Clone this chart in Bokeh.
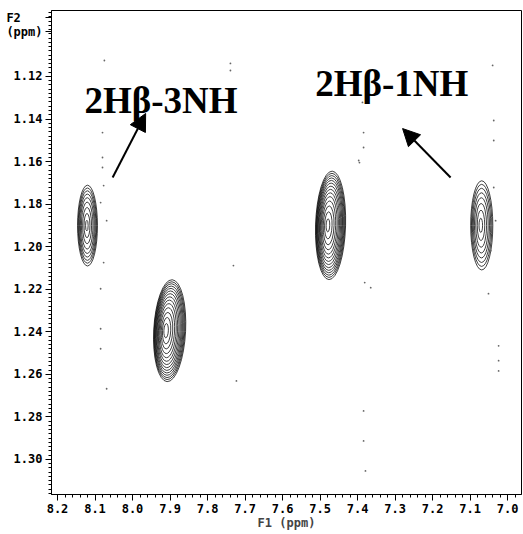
from bokeh.plotting import figure
from bokeh.models import (Range1d, Label, Arrow, NormalHead, ColumnDataSource, SingleIntervalTicker,
                          FixedTicker, PrintfTickFormatter)
from bokeh.embed import file_html
from bokeh.resources import INLINE

# ---- data ----
# cross peaks: F1 (ppm), F2 (ppm), outer contour extent in F1 / F2 (ppm)
peak_f1 = [8.120, 7.901, 7.472, 7.069]
peak_f2 = [1.1901, 1.2395, 1.1900, 1.1900]
peak_w = [0.053, 0.085, 0.080, 0.059]
peak_h = [0.038, 0.048, 0.051, 0.042]
peak_shift = [0.002, 0.011, 0.008, 0.003]      # drift of the inner contours (ppm, F1)
peak_tilt = [0.0, -0.05, -0.03, 0.0]
peak_levels = [
    [1.0, 0.93, 0.86, 0.78, 0.69, 0.58, 0.45, 0.30, 0.13],
    [1.0, 0.96, 0.92, 0.875, 0.83, 0.78, 0.725, 0.665, 0.60, 0.53, 0.45, 0.36, 0.26, 0.14],
    [1.0, 0.96, 0.92, 0.875, 0.83, 0.78, 0.725, 0.665, 0.60, 0.53, 0.45, 0.36, 0.25, 0.12],
    [1.0, 0.92, 0.83, 0.73, 0.62, 0.49, 0.34, 0.16],
]

# faint t1-noise specks
noise_f1 = [8.080, 8.080, 8.080, 8.077, 8.085, 8.069, 8.077, 8.085, 8.085, 8.085, 8.069, 8.075,
            7.739, 7.739, 7.731, 7.723, 7.387, 7.384, 7.384, 7.397, 7.395, 7.381, 7.365, 7.384,
            7.384, 7.379, 7.040, 7.037, 7.037, 7.037, 7.032, 7.045, 7.051, 7.024, 7.024, 7.024]
noise_f2 = [1.1464, 1.1581, 1.1628, 1.1713, 1.1793, 1.1878, 1.2075, 1.2198, 1.2386, 1.2480, 1.2668, 1.1125,
            1.1139, 1.1172, 1.2089, 1.2631, 1.1322, 1.1464, 1.1534, 1.1595, 1.1605, 1.2169, 1.2193, 1.2772,
            1.2913, 1.3054, 1.1148, 1.1407, 1.1501, 1.1722, 1.1878, 1.2019, 1.2221, 1.2466, 1.2536, 1.2584]

# axis ticks
f2_ticks = [1.12, 1.14, 1.16, 1.18, 1.20, 1.22, 1.24, 1.26, 1.28, 1.30]
f2_title_pos = [1.0925, 1.0990]
f2_title_text = ["F2\u00a0\u00a0\u00a0", "(ppm)"]

# annotations
label_texts = ["2H\u03b2-3NH", "2H\u03b2-1NH"]
label_f1 = [8.128, 7.513]
label_f2 = [1.1313, 1.1233]
arrow_start_f1 = [8.053, 7.152]
arrow_start_f2 = [1.1675, 1.1675]
arrow_end_f1 = [7.965, 7.280]
arrow_end_f2 = [1.1374, 1.1445]

# ---- figure ----
p = figure(width=523, height=534, output_backend="svg", toolbar_location=None,
           x_range=Range1d(8.216, 6.963), y_range=Range1d(1.3165, 1.089),
           min_border_left=51, min_border_right=2, min_border_top=10, min_border_bottom=40)
p.background_fill_color = "white"
p.border_fill_color = "white"
p.outline_line_color = "black"
p.outline_line_width = 1
p.xgrid.visible = False
p.ygrid.visible = False

xs, ys, ws, hs, angs = [], [], [], [], []
for f1, f2, w, h, sh, tl, levels in zip(peak_f1, peak_f2, peak_w, peak_h, peak_shift, peak_tilt, peak_levels):
    for s in levels:
        xs.append(f1 + sh * (1 - s))
        ys.append(f2)
        ws.append(w * s)
        hs.append(h * s)
        angs.append(tl)
src = ColumnDataSource(dict(x=xs, y=ys, w=ws, h=hs, a=angs))
p.ellipse(x="x", y="y", width="w", height="h", angle="a", source=src,
          fill_color=None, line_color="black", line_width=0.75)

p.scatter(noise_f1, noise_f2, size=1.8, color="#666666", line_color=None)

for t, x, y in zip(label_texts, label_f1, label_f2):
    p.add_layout(Label(x=x, y=y, text=t, text_font="Liberation Serif", text_font_style="bold",
                       text_font_size="37px", text_color="black", text_align="left",
                       text_baseline="alphabetic"))

for x0, y0, x1, y1 in zip(arrow_start_f1, arrow_start_f2, arrow_end_f1, arrow_end_f2):
    p.add_layout(Arrow(x_start=x0, y_start=y0, x_end=x1, y_end=y1, line_width=2, line_color="black",
                       end=NormalHead(size=17, fill_color="black", line_color="black")))

# axes
p.xaxis.ticker = SingleIntervalTicker(interval=0.1, num_minor_ticks=5)
minor = [round(1.090 + 0.002 * i, 3) for i in range(114)]
p.yaxis.ticker = FixedTicker(ticks=f2_ticks + f2_title_pos, minor_ticks=minor)
p.xaxis.formatter = PrintfTickFormatter(format="%.1f")
p.yaxis.formatter = PrintfTickFormatter(format="%.2f")
p.yaxis.major_label_overrides = {v: t for v, t in zip(f2_title_pos, f2_title_text)}
for ax in (p.xaxis, p.yaxis):
    ax.major_tick_in = 0
    ax.major_tick_out = 6
    ax.minor_tick_in = 0
    ax.minor_tick_out = 3
    ax.axis_line_color = "black"
    ax.major_tick_line_color = "black"
    ax.minor_tick_line_color = "black"
    ax.major_label_text_font = "DejaVu Sans Mono"
    ax.major_label_text_font_style = "bold"
    ax.major_label_text_font_size = "12px"
    ax.major_label_text_color = "black"
    ax.major_label_standoff = 3
p.xaxis.axis_label = "F1 (ppm)"
p.xaxis.axis_label_text_font = "DejaVu Sans Mono"
p.xaxis.axis_label_text_font_style = "bold"
p.xaxis.axis_label_text_font_size = "12px"
p.xaxis.axis_label_standoff = 0

open("out.html", "w").write(file_html(p, INLINE))
